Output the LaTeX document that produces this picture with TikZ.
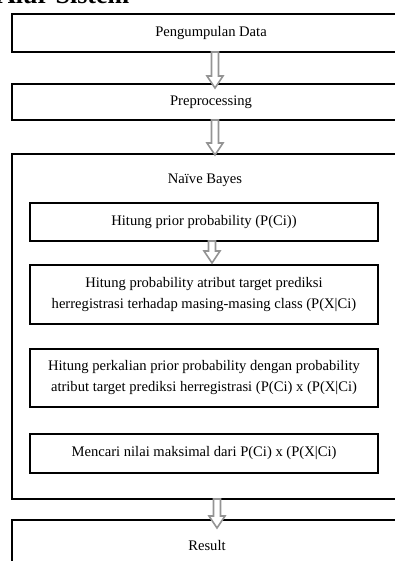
\documentclass[tikz,border=0pt]{standalone}
\usepackage{fontspec}
\setmainfont{Liberation Serif}
\usetikzlibrary{calc}
\tikzset{
  box/.style={draw, line width=2.6pt, fill=white, inner sep=0pt, outer sep=0pt, align=center, font=\fontsize{14.6}{21}\selectfont},
  txt/.style={font=\fontsize{14.6}{21}\selectfont, inner sep=0pt},
  arr/.style={draw=black!42, line width=1.6pt, fill=white, line join=miter}
}
\newcommand\fatarrow[2]{%
  \path[arr] let \p1=(#1), \p2=(#2) in
    (\x1-3.5pt,\y1) -- (\x1-3.5pt,\y2+12pt) -- (\x1-8pt,\y2+12pt) -- (\x2,\y2)
    -- (\x1+8pt,\y2+12pt) -- (\x1+3.5pt,\y2+12pt) -- (\x1+3.5pt,\y1) -- cycle;}
\begin{document}
\begin{tikzpicture}[x=1pt,y=-1pt]
\useasboundingbox (0,0) rectangle (395,561);
\clip (0,0) rectangle (395,561);
\fill[white] (0,0) rectangle (395,561);
% heading (cropped at the top edge)
\node[anchor=south west, inner sep=0pt, font=\fontsize{26}{30}\selectfont\bfseries] (ttl) at (-3,4) {Alur Sistem};
% main boxes
\node[box, minimum width=398pt, minimum height=38pt] (b1) at (211,33) {Pengumpulan Data};
\node[box, minimum width=398pt, minimum height=36pt] (b2) at (211,102) {Preprocessing};
\node[box, minimum width=398pt, minimum height=345pt] (nb) at (211,326.5) {};
\node[txt] (nbl) at (205,180) {Naïve Bayes};
\node[box, minimum width=348pt, minimum height=38pt] (ba) at (204,222) {Hitung prior probability (P(Ci))};
\node[box, minimum width=348pt, minimum height=59pt] (bb) at (204,294.5) {Hitung probability atribut target prediksi\\herregistrasi terhadap masing-masing class (P(X|Ci)};
\node[box, minimum width=348pt, minimum height=58pt] (bc) at (204,378) {Hitung perkalian prior probability dengan probability\\atribut target prediksi herregistrasi (P(Ci) x (P(X|Ci)};
\node[box, minimum width=348pt, minimum height=39pt] (bd) at (204,453.5) {Mencari nilai maksimal dari P(Ci) x (P(X|Ci)};
\node[box, minimum width=398pt, minimum height=80pt] (res) at (211,560) {};
\node[txt] (resl) at (207,545) {Result};
% arrows
\coordinate (a1s) at ($(b1.south)+(4,0)$);
\coordinate (a1e) at ($(b2.north)+(4,4)$);
\coordinate (a2s) at ($(b2.south)+(4,0)$);
\coordinate (a2e) at ($(nb.north)+(4,1)$);
\coordinate (a3s) at ($(ba.south)+(8,0)$);
\coordinate (a3e) at ($(bb.north)+(8,-2)$);
\coordinate (a4s) at ($(nb.south)+(6,0)$);
\coordinate (a4e) at ($(res.north)+(6,8)$);
\fatarrow{a1s}{a1e}
\fatarrow{a2s}{a2e}
\fatarrow{a3s}{a3e}
\fatarrow{a4s}{a4e}
\end{tikzpicture}
\end{document}
